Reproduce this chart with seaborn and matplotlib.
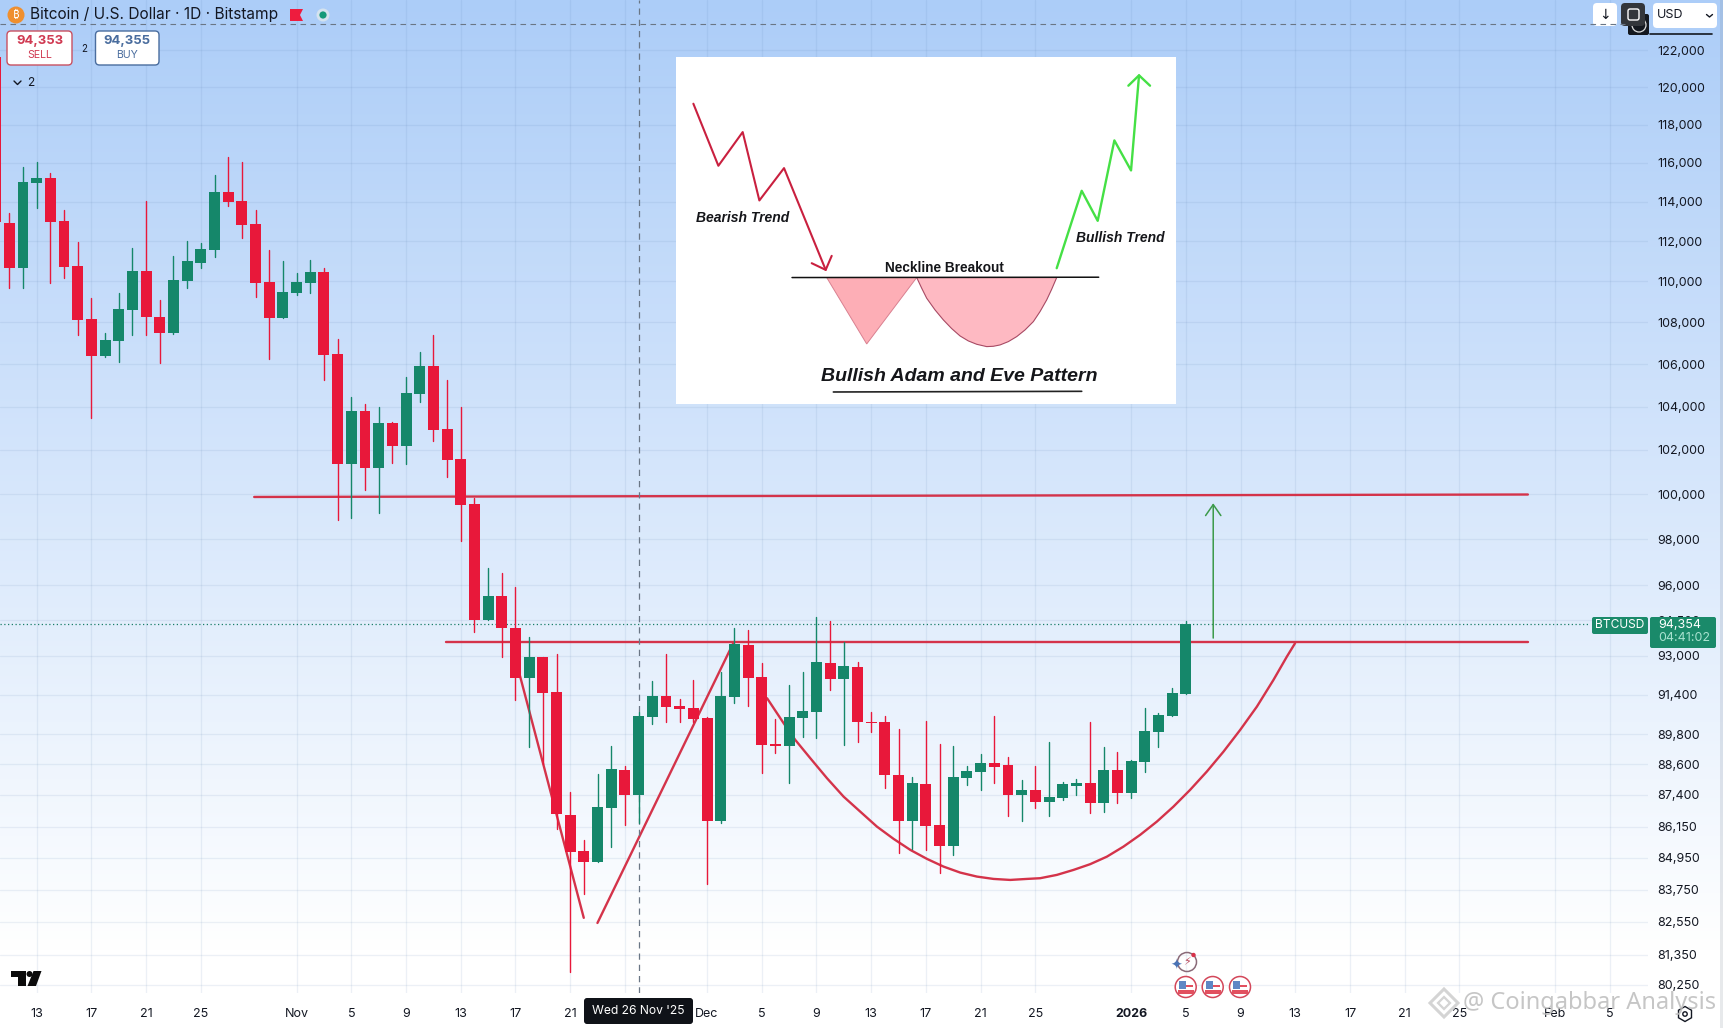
import numpy as np
import pandas as pd
import matplotlib
matplotlib.use("Agg")
import matplotlib.pyplot as plt
from matplotlib.patches import Rectangle, FancyBboxPatch, Circle, Polygon, RegularPolygon
from matplotlib.ticker import NullLocator
import seaborn as sns

# ---------- data ----------
first_day = -3  # 10 Oct 2025, days counted from 13 Oct 2025
opens = [121650,112920,110670,114970,115230,113020,110770,108160,106380,107100,108600,110520,108260,107490,110020,110920,111560,114510,114040,112870,109970,108210,
         109430,109920,110470,106470,101360,103790,101180,103240,102170,104580,105910,102960,101590,99560,94510,95530,94170,92080,92960,91510,86610,85220,84800,86880,88370,87380,90500,91350,90940,90860,
         90460,86380,91310,93460,92120,89400,89320,90460,90700,92710,92040,92540,90290,90290,88160,86380,87810,86220,85410,88050,88290,88640,88570,87380,87580,87110,87270,87730,87850,87070,88370,
         87460,88680,89890,90540,91430]
highs = [121650,113430,115790,116050,115490,113580,111960,109190,107490,109430,111660,114040,109090,111260,112010,111910,115380,116320,116050,113580,111560,111010,
         110410,111060,110670,107200,104450,104120,103980,103280,105390,106570,107390,105250,103980,99820,96740,96520,95910,93790,92960,93080,87490,85640,88210,89320,88530,90700,91960,93080,91220,92000,
         90500,92330,94170,94080,92710,90420,91800,92330,94630,94460,93580,92750,90700,90540,90010,88080,90330,89400,89320,88530,89000,90540,88880,87970,88530,89480,87890,88010,90290,89280,89080,
         88760,90860,90660,91670,94460]
lows = [112970,109680,109680,113690,109920,110170,107390,103470,106330,106100,107390,107390,106050,107440,109680,110670,111210,113790,112160,109240,106240,108210,
        109330,109430,105250,98840,98930,100180,99160,101400,101360,104210,102400,100770,97910,94000,94510,92960,91190,89280,88600,86060,80720,83600,84800,85370,86220,86300,90210,90290,90290,90290,
        83970,86300,91060,90940,88240,89040,87850,89690,89650,91590,89370,89490,89890,87640,85150,85300,85270,84380,85070,87780,87580,87850,86570,86380,86880,86570,87190,87380,86680,86720,87070,
        87270,88290,89280,90540,91430]
closes = [112970,110670,115020,115230,112970,110720,108110,106380,107150,108650,110520,108260,107490,110070,111010,111610,114510,113990,112820,109920,108210,109480,
          109970,110470,106430,101360,103790,101180,103240,102170,104630,105910,102910,101540,99510,94510,95530,94170,92080,92960,91470,86640,85180,84800,86910,88410,87380,90540,91350,90900,90820,90420,
          86380,91350,93500,92080,89370,89320,90500,90740,92750,92040,92580,90290,90250,88160,86380,87840,86180,85410,88080,88330,88640,88490,87380,87580,87110,87310,87810,87850,87070,88370,87460,
          88720,89930,90580,91470,94354]

y_ticks = [122000,120000,118000,116000,114000,112000,110000,108000,106000,104000,102000,100000,98000,96000,94500,93000,91400,89800,88600,87400,86150,84950,83750,82550,81350,80250]
x_tick_days = [0,4,8,12,19,23,27,31,35,39,43,49,53,57,61,65,69,73,80,84,88,92,96,100,104,111,115]
x_tick_labels = ["13","17","21","25","Nov","5","9","13","17","21","","Dec","5","9","13","17","21","25","2026","5","9","13","17","21","25","Feb","5"]

last_price = 94354
cursor_day = 44
neck_days, neck_prices = [29.93, 109], [93590, 93590]
res_days, res_prices = [15.9, 109], [99870, 99980]
adam_down_days, adam_down_prices = [35.14, 39.99], [92580, 82700]
adam_up_days, adam_up_prices = [40.99, 50.92], [82510, 93540]
eve_days = [53.39,54.6,55.45,56.55,57.77,58.98,60.2,61.42,62.64,63.86,65.08,66.29,67.51,68.73,69.94,71.16,72.38,73.35,74.57,75.79,77.0,78.23,79.44,80.66,81.88,83.09,84.31,85.53,86.75,87.97,89.19,90.4,91.38,91.98]
eve_prices = [91254,90239,89566,88833,88040,87318,86732,86151,85678,85257,84913,84621,84394,84243,84155,84117,84155,84182,84307,84496,84712,85000,85383,85834,86345,86926,87582,88302,89096,89968,90911,92004,92970,93530]
target_day, target_from, target_to = 86.0, 93750, 99590

# inset diagram, in its own units
bear_x, bear_y = [100,175,248,298,372,497], [162,348,247,452,355,660]
bear_head_x, bear_head_y = [455,497,515], [640,660,618]
bull_x, bull_y = [1190,1265,1313,1363,1413,1437], [655,423,513,272,362,77]
bull_head_x, bull_head_y = [1405,1437,1470], [108,77,108]
adam_x, adam_y = [500,770,620], [683,683,882]
eve_x = [770,785,800,825,850,875,900,925,950,980,1000,1020,1045,1070,1095,1120,1140,1160,1175,1190]
eve_y = [683,715,745,780,810,836,858,873,883,890,889,885,875,860,840,815,785,750,718,683]

RED, GREEN = "#e8183a", "#15876a"
LINE = "#d4334a"
INK = "#131722"

# ---------- setup ----------
sns.set_theme(style="white")
plt.rcParams["font.family"] = ["Inter", "DejaVu Sans"]
W, H = 1724, 1028
fig = plt.figure(figsize=(W/100, H/100), dpi=100, facecolor="white")

bg = fig.add_axes([0, 0, 1, 1], zorder=-1)
g = np.clip(np.arange(H)/950.0, 0, 1)[:, None, None]
top = np.array([172, 205, 248])/255.0
grad = top*(1-g) + g*np.ones(3)
bg.imshow(grad.reshape(H, 1, 3), aspect="auto", extent=(0, 1, 0, 1), interpolation="bilinear")
bg.axis("off")

ax = fig.add_axes([0, 1-993/H, 1648/W, 993/H], zorder=1, facecolor="none")
ax.set_yscale("log")

days = first_day + np.arange(len(opens))
df = pd.DataFrame(dict(day=days, o=opens, h=highs, l=lows, c=closes))
df["dir"] = np.where(df.c >= df.o, "up", "down")
palette = {"up": GREEN, "down": RED}

wicks = pd.concat([df[["day", "dir"]].assign(price=df.h), df[["day", "dir"]].assign(price=df.l)])
sns.lineplot(data=wicks, x="day", y="price", units="day", hue="dir", palette=palette,
             estimator=None, sort=False, legend=False, lw=1.0, ax=ax, zorder=3)
ax.bar(df.day, (df.c-df.o).abs(), bottom=df[["o", "c"]].min(axis=1), width=0.8,
       color=df.dir.map(palette), linewidth=0, zorder=4)

def ln(x, y, **kw):
    kw.setdefault("color", LINE)
    kw.setdefault("lw", 1.7)
    kw.setdefault("zorder", 2)
    sns.lineplot(x=x, y=y, ax=ax, estimator=None, sort=False, legend=False, **kw)

ln(neck_days, neck_prices)
ln(res_days, res_prices)
ln(adam_down_days, adam_down_prices)
ln(adam_up_days, adam_up_prices)
ln(eve_days, eve_prices)
ax.annotate("", xy=(target_day, target_to), xytext=(target_day, target_from),
            arrowprops=dict(arrowstyle="->,head_length=0.72,head_width=0.5", color="#3c9a4a",
                            lw=1.1, shrinkA=0, shrinkB=0, mutation_scale=11), zorder=5)
ax.axhline(last_price, color="#1a7f68", lw=0.9, ls=(0, (1, 2)), xmax=1590/1648, zorder=2)
ax.axvline(cursor_day, color="#6a7685", lw=0.9, ls=(0, (5, 4)), zorder=2)

ax.set_xlim(-2.68, 117.78)
ax.set_ylim(79960, 124790)
ax.set_xlabel(""); ax.set_ylabel("")
ax.yaxis.tick_right()
ax.yaxis.set_minor_locator(NullLocator())
ax.set_yticks(y_ticks, [f"{v:,}" for v in y_ticks])
ax.set_xticks(x_tick_days, x_tick_labels)
ax.tick_params(axis="y", length=0, pad=7, labelsize=9, labelcolor=INK)
ax.tick_params(axis="x", length=0, pad=11, labelsize=9, labelcolor=INK)
for t in ax.get_xticklabels():
    if t.get_text() == "2026":
        t.set_fontweight("bold")
ax.grid(True, color="#5a7fb0", alpha=0.11, lw=0.9, zorder=0)
for s in ax.spines.values():
    s.set_visible(False)

# ---------- inset diagram ----------
ins = fig.add_axes([675.7/W, 1-404/H, 500/W, 347/H], zorder=2, facecolor="white")
ins.set_xticks([]); ins.set_yticks([])
for s in ins.spines.values():
    s.set_visible(False)
ins.fill(adam_x, adam_y, facecolor="#fdaeb6", edgecolor="#d98090", lw=0.7)
ins.fill(eve_x, eve_y, facecolor="#feb9c2", edgecolor="#a84a64", lw=0.8)
def iln(x, y, color, lw):
    sns.lineplot(x=x, y=y, ax=ins, color=color, lw=lw, estimator=None, sort=False, legend=False)
iln(bear_x, bear_y, "#c9203f", 1.5)
iln(bear_head_x, bear_head_y, "#c9203f", 1.5)
iln(bull_x, bull_y, "#45e045", 1.7)
iln(bull_head_x, bull_head_y, "#45e045", 1.7)
iln([396, 1316], [683, 682], "#111111", 1.1)
iln([520, 1265], [1026, 1024], "#222222", 1.2)
ins.set_xlabel(""); ins.set_ylabel("")
ins.set_xlim(47, 1547); ins.set_ylim(1062, 22)
lib = ["Liberation Sans", "DejaVu Sans"]
ins.text(107, 506, "Bearish Trend", family=lib, weight="bold", style="italic", size=10.0, color="#15161a", va="center")
ins.text(1247, 565, "Bullish Trend", family=lib, weight="bold", style="italic", size=10.0, color="#15161a", va="center")
ins.text(676, 653, "Neckline Breakout", family=lib, weight="bold", size=9.8, color="#15161a", va="center")
ins.text(482, 981, "Bullish Adam and Eve Pattern", family=lib, weight="bold", style="italic", size=14.0, color="#15161a", va="center")

# ---------- chart chrome, in figure pixels ----------
ui = fig.add_axes([0, 0, 1, 1], zorder=3, facecolor="none")
ui.set_xlim(0, W); ui.set_ylim(H, 0); ui.axis("off")

def box(x0, y0, x1, y1, fc, ec="none", lw=0, r=3):
    ui.add_patch(FancyBboxPatch((x0+r, y0+r), x1-x0-2*r, y1-y0-2*r, boxstyle=f"round,pad={r},rounding_size={r}",
                                fc=fc, ec=ec, lw=lw))

ui.plot([0, 1625], [24, 24], color="#6a7685", lw=0.8, ls=(0, (5, 4)))

# header
ui.add_patch(Circle((16, 15), 8.5, fc="#ef8f2f", ec="none"))
ui.text(16, 15.5, "₿", color="white", size=8, ha="center", va="center", weight="bold",
        family=["Noto Sans", "Roboto", "Open Sans", "Liberation Sans", "DejaVu Sans"])
ui.text(30, 15, "Bitcoin / U.S. Dollar · 1D · Bitstamp", color=INK, size=11.1, va="center")
ui.add_patch(Polygon([(290, 9), (303, 9), (300, 15), (303, 21), (290, 21)], fc="#ee1c3e", ec="none"))
ui.add_patch(Circle((323, 15), 6.5, fc="#d5e3ee", ec="none"))
ui.add_patch(Circle((323, 15), 3.6, fc="#159a78", ec="none"))

# sell / buy
box(7, 31, 72, 65, "white", "#c95060", 1.0, 4)
ui.text(39.5, 41, "94,353", color="#d03a52", size=9.4, weight="bold", ha="center", va="center")
ui.text(39.5, 55, "SELL", color="#d03a52", size=7.6, ha="center", va="center")
ui.text(84, 48.5, "2", color=INK, size=7, ha="center", va="center")
box(95.5, 31, 159, 65, "white", "#4a6d9e", 1.0, 4)
ui.text(127, 41, "94,355", color="#4a6d9e", size=9.4, weight="bold", ha="center", va="center")
ui.text(127, 55, "BUY", color="#4a6d9e", size=7.6, ha="center", va="center")
ui.plot([14, 17.5, 21], [81, 84.5, 81], color=INK, lw=1)
ui.text(31, 83, "2", color=INK, size=8.6, ha="center", va="center")

# top-right controls
box(1593, 3, 1617, 26, "white", r=4)
ui.text(1605, 15, "↓", color=INK, size=10, ha="center", va="center", family="DejaVu Sans")
box(1628, 14, 1649, 35, "#14181f", r=2)
ui.add_patch(Circle((1639, 25), 7, fc="none", ec="#dddddd", lw=0.9))
box(1621, 3, 1645, 26, "#33363b", r=4)
box(1628, 9, 1639, 20, "none", "white", 1.0, 2)
box(1653, 3, 1717, 28, "white", r=4)
ui.text(1657, 15.5, "USD", color=INK, size=9, va="center")
ui.plot([1706.5, 1709.5, 1712.5], [14.5, 17, 14.5], color=INK, lw=1)
ui.plot([1650, 1712], [33.5, 33.5], color="#14181f", lw=1.2)

# last price badges
box(1592, 617, 1648, 634, "#1a8a6a", r=2)
ui.text(1620, 625.5, "BTCUSD", color="white", size=8.6, ha="center", va="center")
box(1650, 617, 1716, 648, "#1a8a6a", r=2)
ui.text(1658, 625, "94,354", color="white", size=9, va="center")
ui.text(1658, 638, "04:41:02", color="#a8e2d0", size=9, va="center")

# cursor label
box(584, 998, 693, 1024, "#0f1218", r=3)
ui.text(638.5, 1011, "Wed 26 Nov '25", color="white", size=8.7, ha="center", va="center")

# TradingView mark
ui.add_patch(Polygon([(11, 971), (26, 971), (26, 986), (18.5, 986), (18.5, 977), (11, 977)], fc="#0b0b0b", ec="none"))
ui.add_patch(Circle((29.5, 974), 3, fc="#0b0b0b", ec="none"))
ui.add_patch(Polygon([(33.5, 971), (41.5, 971), (36, 986), (27.5, 986)], fc="#0b0b0b", ec="none"))

# event icons
for cx in [1185.7, 1212.7, 1240]:
    ui.add_patch(Circle((cx, 987), 10.5, fc="white", ec="#d3475a", lw=1.1))
    ui.add_patch(Rectangle((cx-8, 990), 16, 3.5, fc="#e2505f", ec="none"))
    ui.add_patch(Rectangle((cx-7, 981), 7, 8, fc="#5f87c4", ec="none"))
    ui.add_patch(Rectangle((cx, 985), 7.5, 1.5, fc="#e2505f", ec="none"))
ui.add_patch(Circle((1187, 962), 9.5, fc="none", ec="#8a6a78", lw=1.1))
ui.text(1187, 962, "⚡", color="#b8465a", size=8, ha="center", va="center", family="DejaVu Sans")
ui.add_patch(Circle((1193.5, 955), 2.2, fc="#d8324a", ec="none"))
ui.text(1176, 966, "✦", color="#4a73b5", size=10, ha="center", va="center", family="DejaVu Sans")

# settings glyph
ui.add_patch(RegularPolygon((1685, 1014), 6, radius=7.5, fc="none", ec=INK, lw=1))
ui.add_patch(Circle((1685, 1014), 2.2, fc="none", ec=INK, lw=1))

# watermark
ui.add_patch(Polygon([(1444, 989), (1458, 1003), (1444, 1017), (1430, 1003)], fc="none", ec="#d4d4d4", lw=2.2))
ui.add_patch(Polygon([(1444, 997), (1450, 1003), (1444, 1009), (1438, 1003)], fc="none", ec="#d4d4d4", lw=1.6))
ui.text(1463, 1003, "@ Coingabbar Analysis", family=["Noto Sans", "DejaVu Sans"], color="#bcbcbc", alpha=0.85,
        size=17, va="center")

# right edge strip
ui.add_patch(Rectangle((1720, 0), 4, H, fc="#7d8694", alpha=0.18, ec="none"))

fig.savefig("out.png", dpi=100)
